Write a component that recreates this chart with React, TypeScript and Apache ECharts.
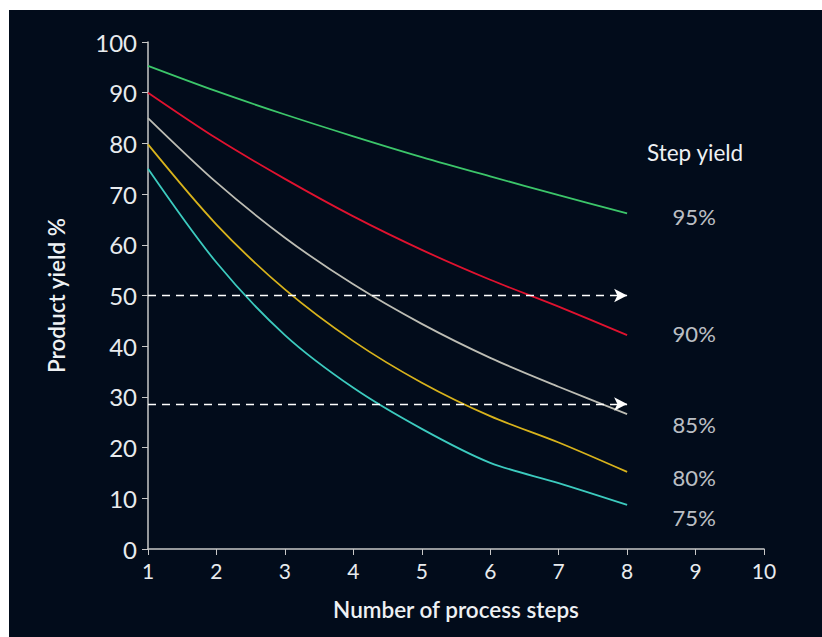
import React, { useEffect, useRef } from "react";
import * as echarts from "echarts";

const steps = [1, 2, 3, 4, 5, 6, 7, 8];
const yield95 = [95.3, 90.3, 85.7, 81.4, 77.3, 73.5, 69.8, 66.2];
const yield90 = [90.0, 81.0, 73.0, 65.6, 59.0, 53.1, 47.8, 42.2];
const yield85 = [85.0, 72.3, 61.4, 52.2, 44.4, 37.7, 32.0, 26.6];
const yield80 = [79.8, 64.0, 51.2, 41.0, 32.8, 26.2, 21.0, 15.2];
const yield75 = [75.0, 56.5, 42.2, 31.8, 23.7, 17.0, 13.0, 8.7];
const seriesNames = ["95%", "90%", "85%", "80%", "75%"];
const seriesColors = ["#3cc66a", "#e0122f", "#bdbdb4", "#d8b31c", "#3ccbbf"];
const labelValues = [65.5, 42.6, 24.6, 14.2, 6.3];
const arrowLevels = [50, 28.6];
const arrowEnd = 8;

const FONT = "Lato, 'Noto Sans', sans-serif";

export default function App() {
  const ref = useRef<HTMLDivElement>(null);
  useEffect(() => {
    document.body.style.margin = "0";
    const chart = echarts.init(ref.current!, null, { renderer: "svg" });
    const all = [yield95, yield90, yield85, yield80, yield75];
    const lineSeries: any[] = all.map((vals, i) => ({
      type: "line",
      name: seriesNames[i],
      data: steps.map((s, j) => [s, vals[j]]),
      showSymbol: false,
      smooth: 0.3,
      lineStyle: { color: seriesColors[i], width: 1.8 },
      itemStyle: { color: seriesColors[i] },
    }));
    lineSeries.push({
      type: "line",
      name: "arrows",
      data: [],
      markLine: {
        silent: true,
        symbol: ["none", "arrow"],
        symbolSize: [10, 13],
        label: { show: false },
        lineStyle: { color: "#ffffff", type: [8, 6], width: 1.3 },
        data: arrowLevels.map((v) => [
          { coord: [1, v] },
          { coord: [arrowEnd, v] },
        ]),
      },
    });
    lineSeries.push({
      type: "scatter",
      name: "labels",
      data: seriesNames.map((n, i) => ({ value: [8.98, labelValues[i]], name: n })),
      symbolSize: 0,
      label: {
        show: true,
        position: "inside",
        formatter: (p: any) => p.name,
        color: "#eef1f4",
        fontFamily: FONT,
        fontSize: 22,
      },
    });
    chart.setOption({
      animation: false,
      backgroundColor: "#020c1b",
      grid: { left: 139, top: 32, width: 616, height: 507 },
      xAxis: {
        type: "value",
        min: 1,
        max: 10,
        interval: 1,
        name: "Number of process steps",
        nameLocation: "middle",
        nameGap: 49,
        nameTextStyle: { color: "#eef1f4", fontFamily: FONT, fontSize: 22.5, fontWeight: 600 },
        axisLine: { lineStyle: { color: "#c8c8c8", width: 1.5 } },
        axisTick: { show: true, length: 6, lineStyle: { color: "#c8c8c8" } },
        axisLabel: { color: "#e8ebee", fontFamily: FONT, fontSize: 21, margin: 11 },
        splitLine: { show: false },
      },
      yAxis: {
        type: "value",
        min: 0,
        max: 100,
        interval: 10,
        name: "Product yield %",
        nameLocation: "middle",
        nameGap: 80,
        nameTextStyle: { color: "#eef1f4", fontFamily: FONT, fontSize: 22.5, fontWeight: 600 },
        axisLine: { show: true, lineStyle: { color: "#c8c8c8", width: 1.5 } },
        axisTick: { show: true, length: 6, lineStyle: { color: "#c8c8c8" } },
        axisLabel: { color: "#e8ebee", fontFamily: FONT, fontSize: 24, margin: 11 },
        splitLine: { show: false },
      },
      graphic: [
        {
          type: "text",
          left: 638,
          top: 131,
          style: { text: "Step yield", fill: "#eef1f4", font: `22.5px ${FONT}` },
        },
      ],
      series: lineSeries,
    });
    return () => chart.dispose();
  }, []);
  return (
    <div
      ref={ref}
      style={{ position: "absolute", left: 9, top: 10, width: 813, height: 627 }}
    />
  );
}
